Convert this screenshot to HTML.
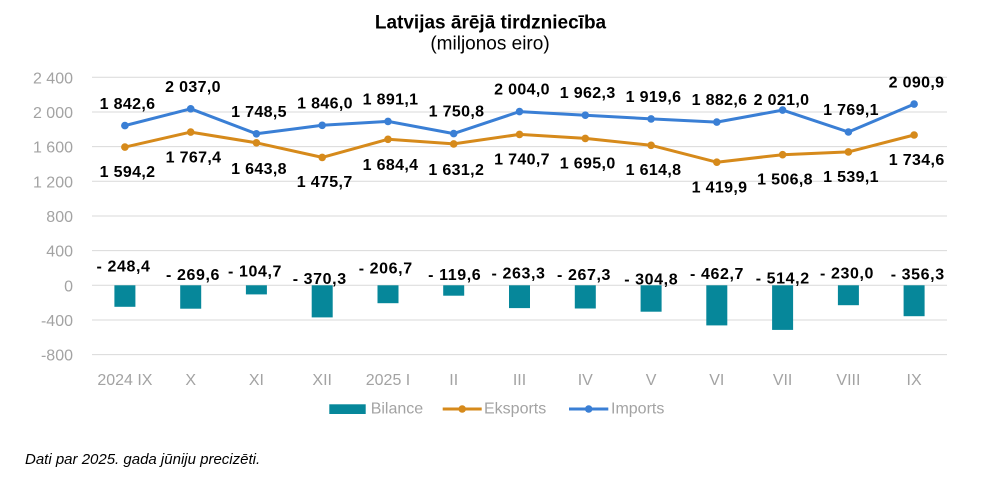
<!DOCTYPE html>
<html><head><meta charset="utf-8"><style>
html,body{margin:0;padding:0;background:#fff;}
svg{display:block;}
.t{font-family:"Liberation Sans",Arial,sans-serif;}
.dl{font-family:"Liberation Sans",Arial,sans-serif;font-weight:bold;font-size:16px;letter-spacing:0.35px;fill:#000;text-anchor:middle;}
.bl{font-family:"Liberation Sans",Arial,sans-serif;font-weight:bold;font-size:16px;letter-spacing:0.6px;fill:#000;text-anchor:middle;}
.ax{font-family:"Liberation Sans",Arial,sans-serif;font-size:16px;fill:#a3a3a3;}
</style></head><body>
<svg width="1000" height="489" viewBox="0 0 1000 489" xmlns="http://www.w3.org/2000/svg">
<rect width="1000" height="489" fill="#fff"/>
<text class="t" x="490.5" y="28.3" font-size="19" font-weight="bold" text-anchor="middle" fill="#000">Latvijas ārējā tirdzniecība</text>
<text class="t" x="490" y="49.5" font-size="19" text-anchor="middle" fill="#000">(miljonos eiro)</text>
<g stroke="#d9d9d9" stroke-width="1">
<line x1="92" x2="947" y1="77.3" y2="77.3"/>
<line x1="92" x2="947" y1="112" y2="112"/>
<line x1="92" x2="947" y1="146.6" y2="146.6"/>
<line x1="92" x2="947" y1="181.3" y2="181.3"/>
<line x1="92" x2="947" y1="216" y2="216"/>
<line x1="92" x2="947" y1="250.6" y2="250.6"/>
<line x1="92" x2="947" y1="285.3" y2="285.3"/>
<line x1="92" x2="947" y1="320" y2="320"/>
<line x1="92" x2="947" y1="354.6" y2="354.6"/>
</g>
<g class="ax" text-anchor="end">
<text x="73" y="83.3">2 400</text>
<text x="73" y="118">2 000</text>
<text x="73" y="152.6">1 600</text>
<text x="73" y="187.3">1 200</text>
<text x="73" y="222">800</text>
<text x="73" y="256.6">400</text>
<text x="73" y="291.3">0</text>
<text x="73" y="326">-400</text>
<text x="73" y="360.6">-800</text>
</g>
<g class="ax" text-anchor="middle">
<text x="124.9" y="385">2024 IX</text>
<text x="190.7" y="385">X</text>
<text x="256.4" y="385">XI</text>
<text x="322.2" y="385">XII</text>
<text x="388" y="385">2025 I</text>
<text x="453.7" y="385">II</text>
<text x="519.5" y="385">III</text>
<text x="585.3" y="385">IV</text>
<text x="651.1" y="385">V</text>
<text x="716.8" y="385">VI</text>
<text x="782.6" y="385">VII</text>
<text x="848.4" y="385">VIII</text>
<text x="914.1" y="385">IX</text>
</g>
<g fill="#06879a">
<rect x="114.4" y="285.3" width="21" height="21.5"/>
<rect x="180.2" y="285.3" width="21" height="23.4"/>
<rect x="245.9" y="285.3" width="21" height="9.1"/>
<rect x="311.7" y="285.3" width="21" height="32.1"/>
<rect x="377.5" y="285.3" width="21" height="17.9"/>
<rect x="443.2" y="285.3" width="21" height="10.4"/>
<rect x="509" y="285.3" width="21" height="22.8"/>
<rect x="574.8" y="285.3" width="21" height="23.2"/>
<rect x="640.6" y="285.3" width="21" height="26.4"/>
<rect x="706.3" y="285.3" width="21" height="40.1"/>
<rect x="772.1" y="285.3" width="21" height="44.6"/>
<rect x="837.9" y="285.3" width="21" height="19.9"/>
<rect x="903.6" y="285.3" width="21" height="30.9"/>
</g>
<polyline fill="none" stroke="#d68a1b" stroke-width="3" stroke-linejoin="round" points="124.9,147.1 190.7,132.1 256.4,142.8 322.2,157.4 388,139.3 453.7,143.9 519.5,134.4 585.3,138.4 651.1,145.3 716.8,162.2 782.6,154.7 848.4,151.9 914.1,135"/>
<g fill="#d68a1b">
<circle cx="124.9" cy="147.1" r="3.8"/><circle cx="190.7" cy="132.1" r="3.8"/><circle cx="256.4" cy="142.8" r="3.8"/><circle cx="322.2" cy="157.4" r="3.8"/><circle cx="388" cy="139.3" r="3.8"/><circle cx="453.7" cy="143.9" r="3.8"/><circle cx="519.5" cy="134.4" r="3.8"/><circle cx="585.3" cy="138.4" r="3.8"/><circle cx="651.1" cy="145.3" r="3.8"/><circle cx="716.8" cy="162.2" r="3.8"/><circle cx="782.6" cy="154.7" r="3.8"/><circle cx="848.4" cy="151.9" r="3.8"/><circle cx="914.1" cy="135" r="3.8"/>
</g>
<polyline fill="none" stroke="#3a7fd5" stroke-width="3" stroke-linejoin="round" points="124.9,125.6 190.7,108.8 256.4,133.8 322.2,125.3 388,121.4 453.7,133.6 519.5,111.6 585.3,115.2 651.1,118.9 716.8,122.1 782.6,110.1 848.4,132 914.1,104.1"/>
<g fill="#3a7fd5">
<circle cx="124.9" cy="125.6" r="3.8"/><circle cx="190.7" cy="108.8" r="3.8"/><circle cx="256.4" cy="133.8" r="3.8"/><circle cx="322.2" cy="125.3" r="3.8"/><circle cx="388" cy="121.4" r="3.8"/><circle cx="453.7" cy="133.6" r="3.8"/><circle cx="519.5" cy="111.6" r="3.8"/><circle cx="585.3" cy="115.2" r="3.8"/><circle cx="651.1" cy="118.9" r="3.8"/><circle cx="716.8" cy="122.1" r="3.8"/><circle cx="782.6" cy="110.1" r="3.8"/><circle cx="848.4" cy="132" r="3.8"/><circle cx="914.1" cy="104.1" r="3.8"/>
</g>
<g class="dl">
<text x="127.5" y="108.8">1 842,6</text>
<text x="193" y="91.8">2 037,0</text>
<text x="259" y="116.8">1 748,5</text>
<text x="325" y="108.3">1 846,0</text>
<text x="390.5" y="104.4">1 891,1</text>
<text x="456.5" y="116.6">1 750,8</text>
<text x="522" y="94.6">2 004,0</text>
<text x="587.7" y="98.2">1 962,3</text>
<text x="653.5" y="101.9">1 919,6</text>
<text x="719.5" y="105">1 882,6</text>
<text x="781.5" y="105">2 021,0</text>
<text x="851" y="115">1 769,1</text>
<text x="916.5" y="87.3">2 090,9</text>
</g>
<g class="dl">
<text x="127.5" y="177.1">1 594,2</text>
<text x="193.5" y="162.4">1 767,4</text>
<text x="259" y="173.8">1 643,8</text>
<text x="324.7" y="187.2">1 475,7</text>
<text x="390.5" y="169.8">1 684,4</text>
<text x="456.3" y="174.9">1 631,2</text>
<text x="522" y="164.6">1 740,7</text>
<text x="587.7" y="168.4">1 695,0</text>
<text x="653.5" y="175.1">1 614,8</text>
<text x="719.5" y="192.7">1 419,9</text>
<text x="785" y="184.5">1 506,8</text>
<text x="851" y="181.8">1 539,1</text>
<text x="916.7" y="165">1 734,6</text>
</g>
<g class="bl">
<text x="123.5" y="271.7">- 248,4</text>
<text x="193" y="280">- 269,6</text>
<text x="255" y="276.7">- 104,7</text>
<text x="319.7" y="284">- 370,3</text>
<text x="385.7" y="273.3">- 206,7</text>
<text x="454.7" y="280">- 119,6</text>
<text x="518.5" y="278.3">- 263,3</text>
<text x="584" y="280">- 267,3</text>
<text x="651.2" y="284.5">- 304,8</text>
<text x="717" y="279">- 462,7</text>
<text x="782.7" y="283.3">- 514,2</text>
<text x="847" y="278.3">- 230,0</text>
<text x="917.7" y="279.3">- 356,3</text>
</g>
<rect x="329.3" y="404.3" width="36.4" height="9.7" fill="#06879a"/>
<text class="ax" x="370.7" y="413.3">Bilance</text>
<line x1="442.7" x2="481.7" y1="409" y2="409" stroke="#d68a1b" stroke-width="3"/>
<circle cx="462.2" cy="409" r="3.8" fill="#d68a1b"/>
<text class="ax" x="484" y="413.3">Eksports</text>
<line x1="569" x2="608.3" y1="409" y2="409" stroke="#3a7fd5" stroke-width="3"/>
<circle cx="588.7" cy="409" r="3.8" fill="#3a7fd5"/>
<text class="ax" x="611" y="413.3">Imports</text>
<text class="t" x="25" y="464" font-size="15" font-style="italic" fill="#000">Dati par 2025. gada jūniju precizēti.</text>
</svg>
</body></html>
